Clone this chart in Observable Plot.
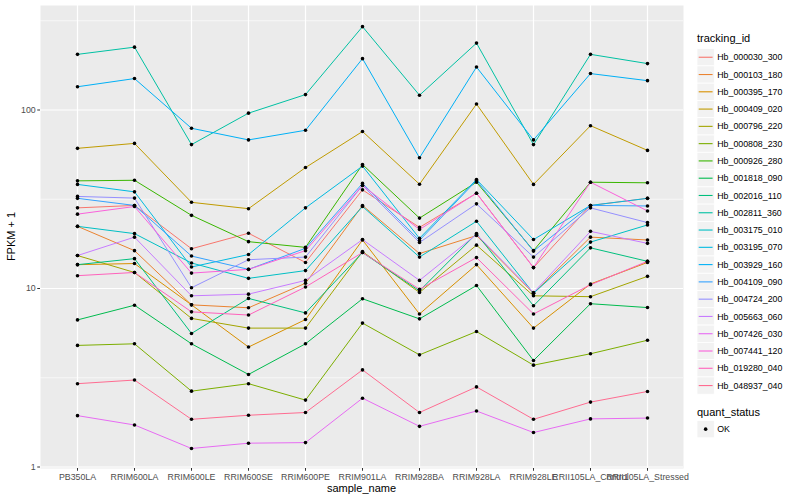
<!DOCTYPE html>
<html><head><meta charset="utf-8">
<script src="https://cdn.jsdelivr.net/npm/d3@7"></script>
<script src="https://cdn.jsdelivr.net/npm/@observablehq/plot@0.6"></script>
<style>
body{margin:0;background:#fff;font-family:"Liberation Sans",Arial,sans-serif;}
#wrap{position:relative;width:800px;height:500px;overflow:hidden;}
#wrap svg{position:absolute;left:0;top:0;}
g[aria-label="x-axis tick"], g[aria-label="y-axis tick"]{stroke:#333333;}
g[aria-label="x-axis tick label"], g[aria-label="y-axis tick label"]{fill:#4D4D4D;}
</style></head><body><div id="wrap"></div>
<script>
const samples = ["PB350LA","RRIM600LA","RRIM600LE","RRIM600SE","RRIM600PE","RRIM901LA","RRIM928BA","RRIM928LA","RRIM928LE","RRII105LA_Control","RRII105LA_Stressed"];
const trackingIds = ["Hb_000030_300","Hb_000103_180","Hb_000395_170","Hb_000409_020","Hb_000796_220","Hb_000808_230","Hb_000926_280","Hb_001818_090","Hb_002016_110","Hb_002811_360","Hb_003175_010","Hb_003195_070","Hb_003929_160","Hb_004109_090","Hb_004724_200","Hb_005663_060","Hb_007426_030","Hb_007441_120","Hb_019280_040","Hb_048937_040"];
const quantStatus = ["OK"];

// FPKM + 1, one array per tracking_id, in sample order
const hb_000030_300 = [28.3, 29.2, 16.7, 20.4, 14.0, 35.7, 22.0, 34.2, 13.1, 29.2, 32.0];
const hb_000103_180 = [22.3, 16.3, 8.1, 7.8, 10.7, 29.2, 15.7, 19.8, 9.4, 19.4, 18.7];
const hb_000395_170 = [13.6, 13.8, 8.1, 4.7, 6.7, 18.7, 7.2, 13.6, 6.0, 10.6, 14.0];
const hb_000409_020 = [61, 65, 30.4, 28, 47.6, 75.8, 38.4, 108, 38.3, 81.7, 59.4];
const hb_000796_220 = [15.3, 12.3, 6.8, 6.0, 6.0, 16.1, 9.5, 17.5, 9.1, 9.0, 11.7];
const hb_000808_230 = [4.8, 4.9, 2.66, 2.93, 2.37, 6.4, 4.25, 5.74, 3.72, 4.31, 5.13];
const hb_000926_280 = [40.1, 40.4, 25.7, 18.3, 17.0, 49.5, 24.8, 39.4, 16.3, 39.4, 39.1];
const hb_001818_090 = [6.67, 8.06, 4.9, 3.3, 4.9, 8.76, 6.76, 10.4, 3.95, 8.22, 7.82];
const hb_002016_110 = [13.6, 14.7, 5.6, 8.8, 7.3, 15.9, 9.7, 20.3, 8.0, 16.9, 14.2];
const hb_002811_360 = [205, 225, 64, 96, 122, 293, 121, 237, 64, 205, 182];
const hb_003175_010 = [22.3, 20.3, 13.9, 11.4, 12.6, 28.8, 15.0, 23.8, 9.4, 18.2, 22.7];
const hb_003195_070 = [38.3, 34.8, 13.2, 15.5, 28.3, 48.5, 19.1, 40.8, 18.8, 29.2, 32.0];
const hb_003929_160 = [135, 150, 79, 68, 77, 194, 54, 174, 68, 160, 146];
const hb_004109_090 = [32.0, 29.2, 15.2, 12.8, 16.8, 38.8, 18.6, 40.3, 16.2, 29.2, 29.0];
const hb_004724_200 = [32.8, 32.1, 10.1, 14.5, 15.0, 37.8, 18.1, 29.8, 15.0, 28.3, 23.4];
const hb_005663_060 = [15.3, 19.4, 9.1, 9.3, 11.1, 18.8, 11.1, 20.1, 9.5, 20.9, 17.9];
const hb_007426_030 = [1.94, 1.72, 1.27, 1.36, 1.37, 2.43, 1.69, 2.06, 1.56, 1.86, 1.88];
const hb_007441_120 = [26.1, 28.8, 12.2, 12.8, 16.3, 37.8, 21.4, 34.2, 13.1, 39.4, 27.2];
const hb_019280_040 = [11.8, 12.3, 7.4, 7.1, 10.2, 15.9, 9.9, 14.9, 7.2, 10.5, 14.2];
const hb_048937_040 = [2.93, 3.07, 1.85, 1.95, 2.02, 3.50, 2.02, 2.81, 1.85, 2.31, 2.65];

const yTicks = [1, 10, 100];

const seriesValues = [hb_000030_300, hb_000103_180, hb_000395_170, hb_000409_020, hb_000796_220, hb_000808_230, hb_000926_280, hb_001818_090, hb_002016_110, hb_002811_360, hb_003175_010, hb_003195_070, hb_003929_160, hb_004109_090, hb_004724_200, hb_005663_060, hb_007426_030, hb_007441_120, hb_019280_040, hb_048937_040];
const hueColors = ["#F8766D","#EA8331","#D89000","#C09B00","#A3A500","#7CAE00","#39B600","#00BB4E","#00BF7D","#00C1A3","#00BFC4","#00BAE0","#00B0F6","#35A2FF","#9590FF","#C77CFF","#E76BF3","#FA62DB","#FF62BC","#FF6C91"];

const data = trackingIds.flatMap((id, i) => seriesValues[i].map((v, j) => ({id, sample: samples[j], value: v, status: quantStatus[0]})));
const minorTicks = yTicks.map(t => t * Math.sqrt(10)).concat([Math.sqrt(10) / 10]);

const W = 800, H = 500, mL = 40, mR = 117, mT = 5, mB = 32;
const font = "'Liberation Sans', Arial, Helvetica, sans-serif";

const plot = Plot.plot({
  width: W, height: H,
  marginLeft: mL, marginRight: mR, marginTop: mT, marginBottom: mB,
  style: {fontFamily: font, background: "white", overflow: "visible"},
  x: {type: "point", domain: samples, padding: 0.6},
  y: {type: "log", domain: [0.981, 385]},
  color: {domain: trackingIds, range: hueColors},
  marks: [
    Plot.frame({fill: "#EBEBEB", stroke: null}),
    Plot.ruleY(minorTicks, {stroke: "white", strokeWidth: 0.6}),
    Plot.ruleY(yTicks, {stroke: "white", strokeWidth: 1.2}),
    Plot.ruleX(samples, {stroke: "white", strokeWidth: 1.2}),
    Plot.line(data, {x: "sample", y: "value", z: "id", stroke: "id", strokeWidth: 1}),
    Plot.dot(data, {x: "sample", y: "value", fill: "black", stroke: null, r: 1.8}),
    Plot.axisX({tickSize: 2.75, tickPadding: 2, fontSize: 8.8, label: null}),
    Plot.axisY({ticks: yTicks, tickFormat: d => String(d), tickSize: 2.75, tickPadding: 2, fontSize: 8.8, label: null})
  ]
});
document.getElementById("wrap").appendChild(plot);

const svg = d3.select(plot);
const color = plot.scale("color");

// axis titles
svg.append("text").attr("x", mL + (W - mL - mR) / 2).attr("y", 492).attr("text-anchor", "middle")
  .attr("font-size", 11).attr("font-family", font).attr("fill", "black").text("sample_name");
svg.append("text").attr("transform", `translate(15,${mT + (H - mT - mB) / 2}) rotate(-90)`).attr("text-anchor", "middle")
  .attr("font-size", 11).attr("font-family", font).attr("fill", "black").text("FPKM + 1");

// legend
const lg = svg.append("g").attr("font-family", font).attr("text-anchor", "start");
const lx = 697, key = 17.28, y0 = 48.6;
lg.append("text").attr("x", lx).attr("y", 42).attr("font-size", 11).attr("fill", "black").text("tracking_id");
trackingIds.forEach((id, i) => {
  const y = y0 + i * key;
  lg.append("rect").attr("x", lx).attr("y", y).attr("width", key).attr("height", key).attr("fill", "#F2F2F2").attr("stroke", "white").attr("stroke-width", 0.8);
  lg.append("line").attr("x1", lx + 1.7).attr("x2", lx + key - 1.7).attr("y1", y + key / 2).attr("y2", y + key / 2).attr("stroke", color.apply(id)).attr("stroke-width", 1.1);
  lg.append("text").attr("x", lx + key + 3).attr("y", y + key / 2).attr("dy", "0.35em").attr("font-size", 8.8).attr("fill", "black").text(id);
});
lg.append("text").attr("x", lx).attr("y", 416).attr("font-size", 11).attr("fill", "black").text("quant_status");
quantStatus.forEach((s, i) => {
  const y = 420.5 + i * key;
  lg.append("rect").attr("x", lx).attr("y", y).attr("width", key).attr("height", key).attr("fill", "#F2F2F2").attr("stroke", "white").attr("stroke-width", 0.8);
  lg.append("circle").attr("cx", lx + key / 2).attr("cy", y + key / 2).attr("r", 1.8).attr("fill", "black");
  lg.append("text").attr("x", lx + key + 3).attr("y", y + key / 2).attr("dy", "0.35em").attr("font-size", 8.8).attr("fill", "black").text(s);
});
</script></body></html>
